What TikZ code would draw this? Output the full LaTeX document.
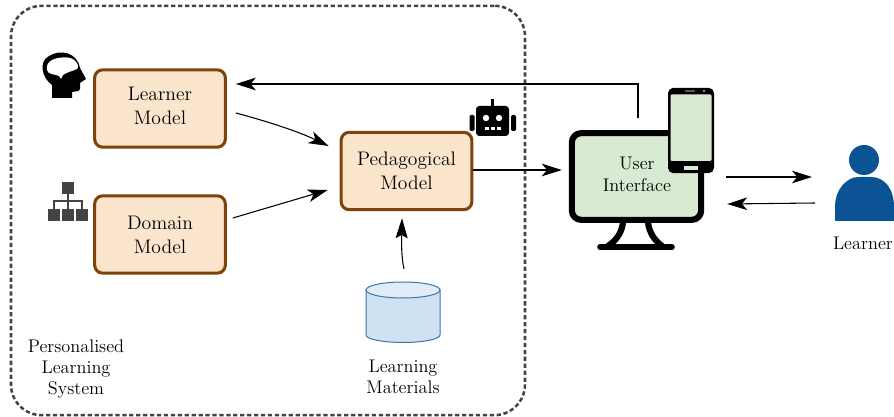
\documentclass[tikz,border=0pt]{standalone}
\usetikzlibrary{arrows.meta,shapes.geometric,calc}
\definecolor{mbrown}{HTML}{7F4408}
\definecolor{mfill}{HTML}{FCE5CD}
\definecolor{ugreen}{HTML}{D9EAD3}
\definecolor{cylfill}{HTML}{CFE2F3}
\definecolor{cyltop}{HTML}{E1ECF7}
\definecolor{mblue}{HTML}{0B5394}
\definecolor{dgrey}{HTML}{434343}
\tikzset{
  modelbox/.style={draw=mbrown,fill=mfill,line width=2.3pt,rounded corners=6pt,minimum width=98pt,minimum height=58pt,align=center,inner sep=0pt,font=\fontsize{14.7}{18}\selectfont},
  lbl/.style={align=center,inner sep=0pt,font=\fontsize{13.7}{15.8}\selectfont},
  conn/.style={-{Stealth[length=15pt,width=9.5pt,inset=4pt]},line width=0.8pt,black},
  orgbox/.style={fill=dgrey,inner sep=0pt,minimum size=8.5pt},
  orgline/.style={draw=dgrey,line width=1.5pt},
}
\begin{document}
\begin{tikzpicture}[x=0.75pt,y=-0.75pt]
\useasboundingbox (0,0) rectangle (894,417);
% enclosure
\node[draw=dgrey,dash pattern=on 3.2pt off 2pt,line width=1.9pt,rounded corners=23pt,minimum width=385.5pt,minimum height=307pt,inner sep=0pt] (sys) at (268,210.5) {};
% models
\node[modelbox,text depth=4.5pt] (lm) at (160,108.5) {Learner\\Model};
\node[modelbox] (dm) at (160,234.5) {Domain\\Model};
\node[modelbox] (pm) at (406.5,171) {Pedagogical\\Model};
% head icon
\fill[black] (52,98) -- (52,85) .. controls (41,77) and (39,61) .. (49,56)
  .. controls (60,49) and (77,52) .. (80,68) -- (86,79) -- (80,83) -- (80,89)
  .. controls (79,92) and (76,91) .. (72,92) -- (72,98) -- cycle;
\fill[white] (47,70) .. controls (46,66) and (48,62) .. (52,60)
  .. controls (58,57) and (70,56) .. (74,60) .. controls (78,63) and (79,67) .. (77,69)
  .. controls (73,71) and (67,72) .. (63,75) -- (61,79) -- (59,76)
  .. controls (55,74) and (48,75) .. (47,70) -- cycle;
% org icon
\node[orgbox] (o1) at (68,188) {};
\node[orgbox] (o2) at (54,215) {};
\node[orgbox] (o3) at (68,215) {};
\node[orgbox] (o4) at (82,215) {};
\draw[orgline] (o1.south) -- (o3.north);
\draw[orgline] (o2.north) |- (68,201) -| (o4.north);
% robot icon
\fill[black,rounded corners=2.5pt] (476,106) rectangle (509,136);
\draw[black,line width=1.8pt] (492.5,106) -- (492.5,99.5);
\fill[black,rounded corners=1pt] (469.5,115) rectangle (474.5,131);
\fill[black,rounded corners=1pt] (511,115) rectangle (516,131);
\fill[white] (486,118) circle (3.2);
\fill[white] (499,118) circle (3.2);
\fill[white] (485,127) rectangle (489,130);
\fill[white] (491,127) rectangle (495,130);
\fill[white] (497,127) rectangle (501,130);
% database
\node[minimum width=55.5pt,minimum height=45.5pt,inner sep=0pt] (db) at (403,312) {};
\draw[draw=mblue!80,fill=cylfill,line width=0.75pt] (366,290) -- (366,335) arc[start angle=180,end angle=360,x radius=37,y radius=-7.5] -- (440,290) -- cycle;
\draw[draw=mblue!80,fill=cyltop,line width=0.75pt] (403,290) ellipse[x radius=37,y radius=8];
\node[lbl] (lmat) at (403,377) {Learning\\Materials};
\node[lbl] (pls) at (76,369) {Personalised\\Learning\\System};
% monitor
\draw[black,line width=4.6pt,line cap=round] (623,222) .. controls (622,232) and (617,240) .. (608,246);
\draw[black,line width=4.6pt,line cap=round] (648,222) .. controls (649,232) and (654,240) .. (662,246);
\draw[black,line width=4.2pt,line cap=round] (600,247) -- (672,247);
\node[draw=black,fill=ugreen,line width=4.6pt,rounded corners=7pt,minimum width=97pt,minimum height=65pt,inner sep=0pt] (ui) at (636.5,176.5) {};
\node[lbl,font=\fontsize{13.7}{16.5}\selectfont] (uit) at (637,174) {User\\Interface};
% phone
\node[fill=black,rounded corners=4pt,minimum width=34.5pt,minimum height=64pt,inner sep=0pt] (ph) at (691,130.5) {};
\fill[ugreen,rounded corners=0.8pt] (670.5,94.5) rectangle (711.5,161);
\fill[ugreen] (684,166) rectangle (698,170);
\fill[black!65] (685,90.5) rectangle (695,91.8);
\fill[white!75!black] (704,91) circle (1.1);
% person
\node[circle,fill=mblue,inner sep=0pt,minimum size=22.5pt] (head) at (864,160) {};
\path[fill=mblue] (835,221) -- (835,207) .. controls (835,188) and (848,177) .. (858,177)
  -- (871,177) .. controls (884,177) and (894,188) .. (894,207) -- (894,221) -- cycle;
\node[lbl] (lrn) at (863,243) {Learner};
% connectors
\coordinate (uitop) at (638,118);
\coordinate (corner) at (638,84);
\draw[-{Stealth[length=15pt,width=9.5pt,inset=4pt]},line width=1.1pt,black] (uitop) -- (corner) -- ($(lm.east)+(9,-24.5)$);
\draw[conn] ($(lm.east)+(9,4.5)$) .. controls (262,120) and (295,130) .. ($(pm.west)+(-11,-25)$);
\draw[conn] ($(dm.east)+(6,-16.5)$) -- ($(pm.west)+(-12,19)$);
\draw[conn] (pm.east) ++(0,-1) -- ($(ui.west)+(-7,-6.5)$);
\draw[-{Stealth[length=15pt,width=9pt,inset=2.5pt]},line width=0.8pt,black] (404,269) .. controls (401.5,258) and (401.5,245) .. ($(pm.south)+(-4.5,7)$);
\coordinate (lin) at (812,177);
\coordinate (lout) at (815,203);
\draw[conn] ($(ui.east)+(22,0.5)$) -- (lin);
\draw[conn] (lout) -- ($(ui.east)+(23,27.5)$);
\end{tikzpicture}
\end{document}
